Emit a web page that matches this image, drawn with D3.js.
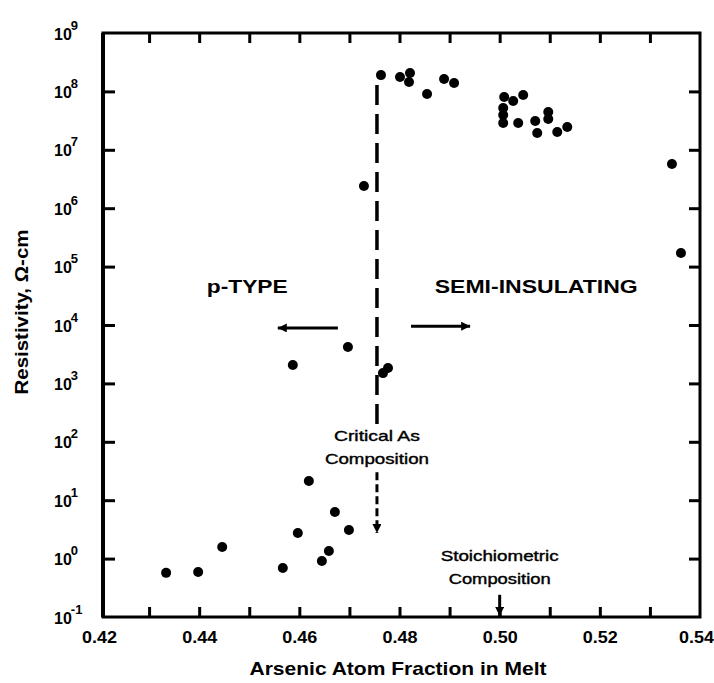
<!DOCTYPE html>
<html>
<head>
<meta charset="utf-8">
<script src="https://cdn.jsdelivr.net/npm/d3@7"></script>
<style>
  body { margin: 0; background: #fff; }
  text { font-family: "Liberation Sans", Arial, Helvetica, sans-serif; fill: #000; }
</style>
</head>
<body>
<div id="chart"></div>
<script>
// data
var asFraction = [0.4334, 0.4398, 0.4446, 0.4567, 0.4597, 0.4619, 0.4645, 0.4659, 0.4671, 0.4699,
  0.4587, 0.4697, 0.4729, 0.4767, 0.4777,
  0.4763, 0.4801, 0.4821, 0.4819, 0.4855, 0.4889, 0.4909,
  0.5009, 0.5027, 0.5047, 0.5007, 0.5007, 0.5007, 0.5037, 0.5071, 0.5075, 0.5097, 0.5097, 0.5115, 0.5135,
  0.5344, 0.5362];
var resistivity = [0.57, 0.59, 1.58, 0.69, 2.74, 21.3, 0.91, 1.35, 6.3, 3.09,
  2065, 4200, 2.4e6, 1500, 1830,
  1.9e8, 1.77e8, 2.07e8, 1.45e8, 9.0e7, 1.63e8, 1.39e8,
  8.0e7, 6.85e7, 8.7e7, 5.2e7, 3.94e7, 2.88e7, 2.88e7, 3.11e7, 1.94e7, 4.44e7, 3.37e7, 2.02e7, 2.46e7,
  5.7e6, 1.71e5];

var xTicks = [0.43, 0.44, 0.45, 0.46, 0.47, 0.48, 0.49, 0.50, 0.51, 0.52, 0.53];
var xLabels = [0.42, 0.44, 0.46, 0.48, 0.50, 0.52, 0.54];
var yExponents = [-1, 0, 1, 2, 3, 4, 5, 6, 7, 8, 9];
var yTicks = [1, 10, 100, 1e3, 1e4, 1e5, 1e6, 1e7, 1e8];

var criticalAs = 0.4755;
var stoichiometric = 0.50;

var svgWidth = 714;
var svgHeight = 683;
var frame = { left: 103, right: 700, top: 33, bottom: 617 };

var svg = d3.select("#chart")
  .append("svg")
  .attr("width", svgWidth)
  .attr("height", svgHeight);

var defs = svg.append("defs");
defs.append("marker")
  .attr("id", "head")
  .attr("viewBox", "0 -5 10 10")
  .attr("refX", 10)
  .attr("refY", 0)
  .attr("markerUnits", "userSpaceOnUse")
  .attr("markerWidth", 11)
  .attr("markerHeight", 9)
  .attr("orient", "auto")
  .append("path")
  .attr("d", "M0,-5L10,0L0,5Z")
  .attr("fill", "#000");

var x = d3.scaleLinear().domain([0.42, 0.54]).range([99, 700]);
var y = d3.scaleLog().domain([0.1, 1e9]).range([frame.bottom, frame.top]);

// frame
svg.append("rect")
  .attr("x", frame.left)
  .attr("y", frame.top)
  .attr("width", frame.right - frame.left)
  .attr("height", frame.bottom - frame.top)
  .attr("fill", "none")
  .attr("stroke", "#000")
  .attr("stroke-width", 3);
svg.append("line")
  .attr("x1", frame.left).attr("x2", frame.left)
  .attr("y1", frame.top).attr("y2", frame.bottom)
  .attr("stroke", "#000").attr("stroke-width", 4);

function styleTicks(g) {
  g.select(".domain").remove();
  g.selectAll(".tick line").attr("stroke", "#000").attr("stroke-width", 3);
}

// inward tick marks on all four sides
svg.append("g")
  .attr("transform", `translate(0, ${frame.bottom})`)
  .call(d3.axisBottom(x).tickValues(xTicks).tickSize(-10).tickFormat(""))
  .call(styleTicks);
svg.append("g")
  .attr("transform", `translate(0, ${frame.top})`)
  .call(d3.axisTop(x).tickValues(xTicks).tickSize(-10).tickFormat(""))
  .call(styleTicks);
svg.append("g")
  .attr("transform", `translate(${frame.left}, 0)`)
  .call(d3.axisLeft(y).tickValues(yTicks).tickSize(-12).tickFormat(""))
  .call(styleTicks);
svg.append("g")
  .attr("transform", `translate(${frame.right}, 0)`)
  .call(d3.axisRight(y).tickValues(yTicks).tickSize(-11).tickFormat(""))
  .call(styleTicks);

// x tick labels
var xLab = svg.append("g")
  .attr("transform", `translate(0, ${frame.bottom})`)
  .call(d3.axisBottom(x).tickValues(xLabels).tickSize(0).tickPadding(26).tickFormat(d3.format(".2f")));
xLab.select(".domain").remove();
xLab.selectAll("text")
  .attr("font-size", 17)
  .attr("font-weight", "bold")
  .attr("dy", 0)
  .attr("dx", d => d > 0.535 ? -4 : 0)
  .attr("textLength", 35)
  .attr("lengthAdjust", "spacingAndGlyphs")
  .style("font-family", "'Liberation Sans', Arial, sans-serif");

// y tick labels with superscript exponents
var yLab = svg.append("g")
  .attr("transform", `translate(${frame.left}, 0)`)
  .call(d3.axisLeft(y).tickValues(yExponents.map(e => Math.pow(10, e))).tickSize(0).tickFormat(""));
yLab.select(".domain").remove();
yLab.selectAll(".tick text")
  .attr("x", -49)
  .attr("dy", 0)
  .attr("y", 6)
  .attr("text-anchor", "start")
  .attr("font-weight", "bold")
  .style("font-family", "'Liberation Sans', Arial, sans-serif")
  .each(function(d) {
    var t = d3.select(this);
    t.append("tspan").attr("font-size", 16).text("10");
    t.append("tspan")
      .attr("font-size", 13)
      .attr("dx", -1)
      .attr("dy", -10)
      .text(String(Math.round(Math.log10(d))));
  });

// axis titles
svg.append("text")
  .attr("x", 398)
  .attr("y", 675)
  .attr("text-anchor", "middle")
  .attr("font-size", 19)
  .attr("font-weight", "bold")
  .attr("textLength", 297)
  .attr("lengthAdjust", "spacingAndGlyphs")
  .text("Arsenic Atom Fraction in Melt");

svg.append("text")
  .attr("transform", "translate(28, 312) rotate(-90)")
  .attr("text-anchor", "middle")
  .attr("font-size", 18)
  .attr("font-weight", "bold")
  .attr("textLength", 165)
  .attr("lengthAdjust", "spacingAndGlyphs")
  .text("Resistivity, \u03A9-cm");

// data points
svg.append("g")
  .selectAll("circle")
  .data(asFraction.map((v, i) => [v, resistivity[i]]))
  .enter()
  .append("circle")
  .attr("cx", d => x(d[0]))
  .attr("cy", d => y(d[1]))
  .attr("r", 5)
  .attr("fill", "#000");

// critical composition dashed line
svg.append("line")
  .attr("x1", x(criticalAs)).attr("x2", x(criticalAs))
  .attr("y1", y(1.29e8)).attr("y2", y(160))
  .attr("stroke", "#000")
  .attr("stroke-width", 3.5)
  .attr("stroke-dasharray", "20,9");
svg.append("line")
  .attr("x1", x(criticalAs)).attr("x2", x(criticalAs))
  .attr("y1", y(30)).attr("y2", y(2.74))
  .attr("stroke", "#000")
  .attr("stroke-width", 3)
  .attr("stroke-dasharray", "8,4")
  .attr("marker-end", "url(#head)");

function note(lines, xv, yv, size, width) {
  lines.forEach(function(s, i) {
    svg.append("text")
      .attr("x", x(xv))
      .attr("y", y(yv[i]))
      .attr("text-anchor", "middle")
      .attr("font-size", size)
      .attr("stroke", "#000")
      .attr("stroke-width", 0.4)
      .attr("textLength", width[i])
      .attr("lengthAdjust", "spacingAndGlyphs")
      .text(s);
  });
}
note(["Critical As", "Composition"], criticalAs, [103, 42], 15, [86, 104]);
note(["Stoichiometric", "Composition"], stoichiometric, [0.91, 0.37], 15, [118, 102]);

// stoichiometric arrow
svg.append("line")
  .attr("x1", x(stoichiometric)).attr("x2", x(stoichiometric))
  .attr("y1", y(0.24)).attr("y2", y(0.1) - 1)
  .attr("stroke", "#000")
  .attr("stroke-width", 3)
  .attr("marker-end", "url(#head)");

// region labels and arrows
svg.append("text")
  .attr("x", x(0.4496))
  .attr("y", y(Math.pow(10, 4.55)))
  .attr("text-anchor", "middle")
  .attr("font-size", 18)
  .attr("font-weight", "bold")
  .attr("textLength", 81)
  .attr("lengthAdjust", "spacingAndGlyphs")
  .text("p-TYPE");
svg.append("text")
  .attr("x", x(0.5073))
  .attr("y", y(Math.pow(10, 4.55)))
  .attr("text-anchor", "middle")
  .attr("font-size", 19)
  .attr("font-weight", "bold")
  .attr("textLength", 203)
  .attr("lengthAdjust", "spacingAndGlyphs")
  .text("SEMI-INSULATING");

svg.append("line")
  .attr("x1", x(0.4677)).attr("x2", x(0.4557))
  .attr("y1", y(Math.pow(10, 3.95))).attr("y2", y(Math.pow(10, 3.95)))
  .attr("stroke", "#000").attr("stroke-width", 3)
  .attr("marker-end", "url(#head)");
svg.append("line")
  .attr("x1", x(0.4823)).attr("x2", x(0.4941))
  .attr("y1", y(Math.pow(10, 3.98))).attr("y2", y(Math.pow(10, 3.98)))
  .attr("stroke", "#000").attr("stroke-width", 3)
  .attr("marker-end", "url(#head)");
</script>
</body>
</html>
